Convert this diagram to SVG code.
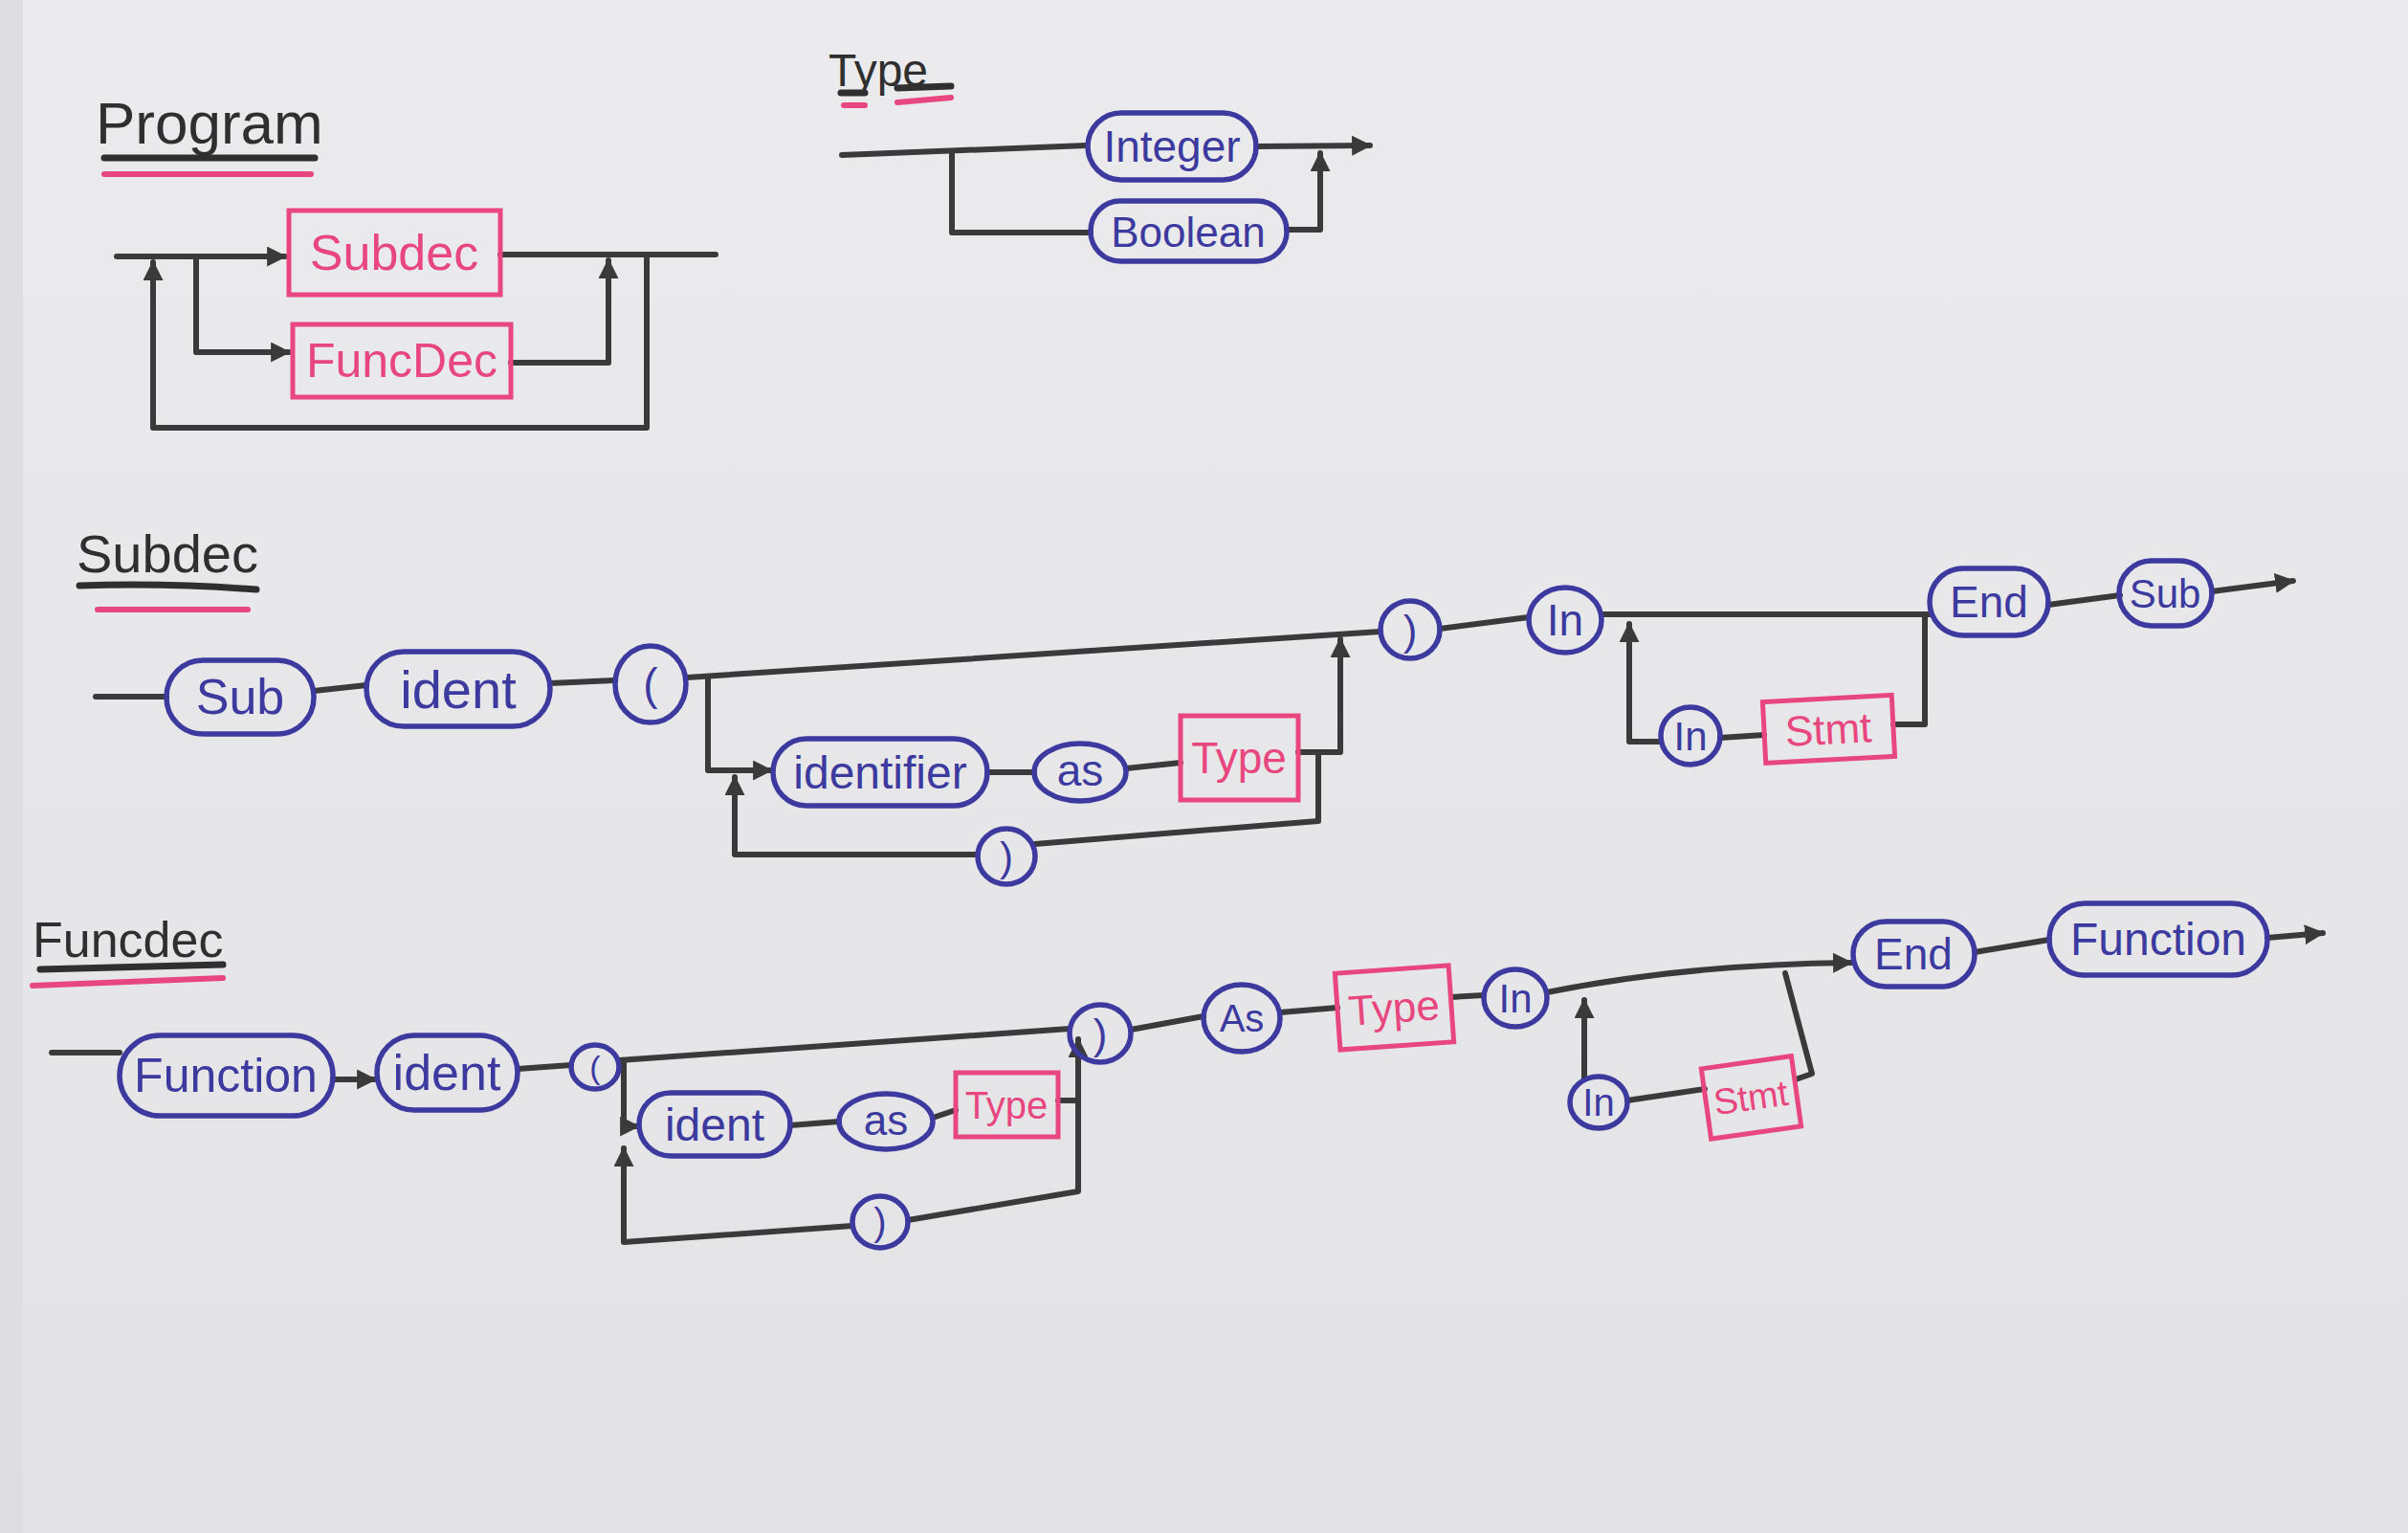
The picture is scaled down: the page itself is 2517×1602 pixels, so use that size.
<svg xmlns="http://www.w3.org/2000/svg" width="2517" height="1602" viewBox="0 0 2517 1602">
<defs>
<style>
.bo{fill:none;stroke:#3d3a9f;stroke-width:5.5}
.pb{fill:none;stroke:#e8467e;stroke-width:5}
.bt{font-family:"Liberation Sans",Arial,sans-serif;fill:#3d3a9f;text-anchor:middle;dominant-baseline:central}
.pt{font-family:"Liberation Sans",Arial,sans-serif;fill:#e8467e;text-anchor:middle;dominant-baseline:central}
.ln{fill:none;stroke:#3a3a3a;stroke-width:6;stroke-linecap:round;stroke-linejoin:round}
.ar{marker-end:url(#ah)}
.ttl{font-family:"Liberation Sans",Arial,sans-serif;fill:#2f2f2f}
.ub{fill:none;stroke:#2f2f2f;stroke-width:7;stroke-linecap:round}
.up{fill:none;stroke:#e8467e;stroke-width:6;stroke-linecap:round}
</style>
<linearGradient id="bg" x1="0" y1="0" x2="0" y2="1">
<stop offset="0" stop-color="#ebebed"/>
<stop offset="1" stop-color="#e3e3e6"/>
</linearGradient>
<marker id="ah" viewBox="0 0 10 10" refX="9" refY="5" markerWidth="3.5" markerHeight="3.5" orient="auto" markerUnits="strokeWidth">
<path d="M0 0 L10 5 L0 10 z" fill="#3a3a3a"/>
</marker>
</defs>
<rect width="2517" height="1602" fill="url(#bg)"/>
<rect x="0" y="0" width="24" height="1602" fill="#dedee1"/>

<!-- Titles -->
<g id="title-program">
<text class="ttl" x="100" y="150" font-size="62">Program</text>
<path class="ub" d="M109 165 H329"/>
<path class="up" d="M109 182 H325"/>
</g>
<g id="title-type">
<text class="ttl" x="866" y="90" font-size="48">Type</text>
<path class="ub" d="M879 97 H904 M938 92 L994 90"/>
<path class="up" d="M882 110 H904 M938 107 L994 102"/>
</g>
<g id="title-subdec">
<text class="ttl" x="80" y="598" font-size="56">Subdec</text>
<path class="ub" d="M83 612 Q175 609 268 616"/>
<path class="up" d="M102 637 H259"/>
</g>
<g id="title-funcdec">
<text class="ttl" x="34" y="1000" font-size="52">Funcdec</text>
<path class="ub" d="M42 1013 L233 1008"/>
<path class="up" d="M34 1030 L233 1022"/>
</g>

<!-- Connectors -->
<g id="connectors">
<!-- Program -->
<path class="ln ar" d="M122 268 H298"/>
<path class="ln" d="M523 266 H748"/>
<path class="ln ar" d="M205 268 V368 H302"/>
<path class="ln ar" d="M534 379 H636 V272"/>
<path class="ln ar" d="M676 266 V447 H160 V274"/>
<!-- Type -->
<path class="ln" d="M880 162 L1136 152"/>
<path class="ln ar" d="M1313 153 L1432 152"/>
<path class="ln" d="M995 160 V243 H1140"/>
<path class="ln ar" d="M1345 240 H1380 V160"/>
<!-- Subdec -->
<path class="ln" d="M100 728 H174"/>
<path class="ln" d="M328 722 L383 716"/>
<path class="ln" d="M575 714 L642 711"/>
<path class="ln" d="M718 708 Q1000 690 1443 660"/>
<path class="ln ar" d="M740 708 V805 H806"/>
<path class="ln" d="M1032 807 H1081"/>
<path class="ln" d="M1177 803 L1234 797"/>
<path class="ln ar" d="M1357 786 H1401 V668"/>
<path class="ln" d="M1378 786 V858 L1082 882"/>
<path class="ln ar" d="M1022 893 H768 V812"/>
<path class="ln" d="M1505 657 L1598 645"/>
<path class="ln" d="M1674 642 H2017"/>
<path class="ln" d="M2012 642 V757 H1979"/>
<path class="ln" d="M1844 768 L1798 771"/>
<path class="ln ar" d="M1736 775 H1703 V652"/>
<path class="ln" d="M2141 632 L2216 622"/>
<path class="ln ar" d="M2312 618 L2397 607"/>
<!-- Funcdec -->
<path class="ln" d="M54 1100 H125"/>
<path class="ln ar" d="M348 1128 H392"/>
<path class="ln" d="M541 1117 L597 1113"/>
<path class="ln" d="M647 1108 L1118 1075"/>
<path class="ln ar" d="M652 1108 V1177 H667"/>
<path class="ln ar" d="M891 1281 L652 1298 V1200"/>
<path class="ln" d="M826 1176 L877 1172"/>
<path class="ln" d="M975 1168 L999 1160"/>
<path class="ln ar" d="M1106 1150 H1127 V1086"/>
<path class="ln" d="M1127 1150 V1245 L949 1275"/>
<path class="ln" d="M1182 1076 L1258 1062"/>
<path class="ln" d="M1338 1058 L1398 1053"/>
<path class="ln" d="M1517 1042 L1551 1040"/>
<path class="ln ar" d="M1617 1037 Q1760 1008 1935 1006"/>
<path class="ln ar" d="M1656 1126 V1045"/>
<path class="ln" d="M1701 1150 L1782 1138"/>
<path class="ln" d="M1877 1128 L1894 1122 L1866 1017"/>
<path class="ln" d="M2064 995 L2142 982"/>
<path class="ln ar" d="M2370 980 L2428 975"/>
</g>

<!-- Program nodes -->
<g id="p-subdec"><rect class="pb" x="302" y="220" width="221" height="88"/><text class="pt" x="412" y="264" font-size="52">Subdec</text></g>
<g id="p-funcdec"><rect class="pb" x="306" y="339" width="228" height="76"/><text class="pt" x="420" y="377" font-size="50">FuncDec</text></g>

<!-- Type nodes -->
<g id="t-integer"><rect class="bo" x="1137" y="118" width="176" height="70" rx="35"/><text class="bt" x="1225" y="153" font-size="46">Integer</text></g>
<g id="t-boolean"><rect class="bo" x="1140" y="210" width="205" height="63" rx="31"/><text class="bt" x="1242" y="242" font-size="44">Boolean</text></g>

<!-- Subdec nodes -->
<g id="s-sub"><rect class="bo" x="174" y="690" width="154" height="77" rx="38"/><text class="bt" x="251" y="728" font-size="52">Sub</text></g>
<g id="s-ident"><rect class="bo" x="383" y="681" width="192" height="78" rx="39"/><text class="bt" x="479" y="720" font-size="56">ident</text></g>
<g id="s-lparen"><ellipse class="bo" cx="680" cy="715" rx="37" ry="40"/><text class="bt" x="680" y="715" font-size="46">(</text></g>
<g id="s-identifier"><rect class="bo" x="808" y="772" width="224" height="70" rx="35"/><text class="bt" x="920" y="807" font-size="48">identifier</text></g>
<g id="s-as"><ellipse class="bo" cx="1129" cy="807" rx="48" ry="30"/><text class="bt" x="1129" y="805" font-size="46">as</text></g>
<g id="s-type"><rect class="pb" x="1234" y="748" width="123" height="88"/><text class="pt" x="1295" y="792" font-size="46">Type</text></g>
<g id="s-comma"><ellipse class="bo" cx="1052" cy="895" rx="30" ry="29"/><text class="bt" x="1052" y="895" font-size="42">)</text></g>
<g id="s-rparen"><ellipse class="bo" cx="1474" cy="658" rx="31" ry="30"/><text class="bt" x="1474" y="658" font-size="44">)</text></g>
<g id="s-in"><ellipse class="bo" cx="1636" cy="648" rx="38" ry="34"/><text class="bt" x="1636" y="648" font-size="46">In</text></g>
<g id="s-in2"><ellipse class="bo" cx="1767" cy="769" rx="31" ry="30"/><text class="bt" x="1767" y="769" font-size="42">In</text></g>
<g id="s-stmt" transform="rotate(-3 1911 762)"><rect class="pb" x="1844" y="730" width="135" height="64"/><text class="pt" x="1911" y="762" font-size="44">Stmt</text></g>
<g id="s-end"><rect class="bo" x="2017" y="594" width="124" height="70" rx="35"/><text class="bt" x="2079" y="629" font-size="46">End</text></g>
<g id="s-sub2"><rect class="bo" x="2215" y="586" width="97" height="68" rx="34"/><text class="bt" x="2263" y="620" font-size="42">Sub</text></g>

<!-- Funcdec nodes -->
<g id="f-function"><rect class="bo" x="125" y="1082" width="223" height="84" rx="42"/><text class="bt" x="236" y="1124" font-size="50">Function</text></g>
<g id="f-ident"><rect class="bo" x="394" y="1082" width="147" height="78" rx="39"/><text class="bt" x="467" y="1121" font-size="52">ident</text></g>
<g id="f-lparen"><ellipse class="bo" cx="622" cy="1115" rx="25" ry="23"/><text class="bt" x="622" y="1115" font-size="34">(</text></g>
<g id="f-ident2"><rect class="bo" x="668" y="1142" width="158" height="66" rx="33"/><text class="bt" x="747" y="1175" font-size="48">ident</text></g>
<g id="f-as"><ellipse class="bo" cx="926" cy="1172" rx="49" ry="29"/><text class="bt" x="926" y="1170" font-size="44">as</text></g>
<g id="f-type"><rect class="pb" x="999" y="1121" width="107" height="67"/><text class="pt" x="1052" y="1155" font-size="40">Type</text></g>
<g id="f-comma"><ellipse class="bo" cx="920" cy="1277" rx="29" ry="27"/><text class="bt" x="920" y="1277" font-size="40">)</text></g>
<g id="f-rparen"><ellipse class="bo" cx="1150" cy="1080" rx="32" ry="30"/><text class="bt" x="1150" y="1080" font-size="44">)</text></g>
<g id="f-as2"><ellipse class="bo" cx="1298" cy="1064" rx="40" ry="35"/><text class="bt" x="1298" y="1064" font-size="40">As</text></g>
<g id="f-type2" transform="rotate(-4 1457 1053)"><rect class="pb" x="1398" y="1013" width="119" height="80"/><text class="pt" x="1457" y="1053" font-size="44">Type</text></g>
<g id="f-in"><ellipse class="bo" cx="1584" cy="1043" rx="33" ry="30"/><text class="bt" x="1584" y="1043" font-size="42">In</text></g>
<g id="f-in2"><ellipse class="bo" cx="1671" cy="1152" rx="30" ry="27"/><text class="bt" x="1671" y="1152" font-size="40">In</text></g>
<g id="f-stmt" transform="rotate(-8 1830 1147)"><rect class="pb" x="1783" y="1110" width="95" height="74"/><text class="pt" x="1830" y="1147" font-size="38">Stmt</text></g>
<g id="f-end"><rect class="bo" x="1937" y="963" width="127" height="68" rx="34"/><text class="bt" x="2000" y="997" font-size="46">End</text></g>
<g id="f-function2"><rect class="bo" x="2142" y="944" width="228" height="75" rx="37"/><text class="bt" x="2256" y="981" font-size="48">Function</text></g>
</svg>
